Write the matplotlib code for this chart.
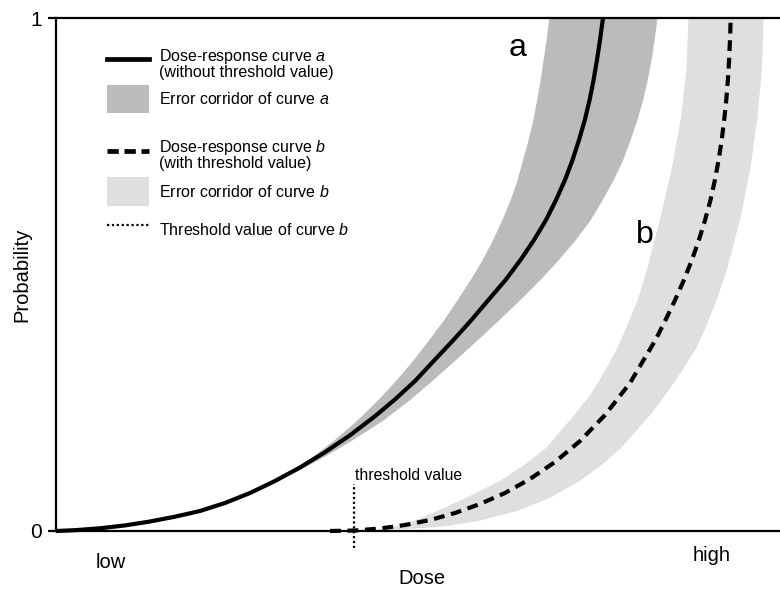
import matplotlib
matplotlib.use("Agg")
import matplotlib.pyplot as plt
from matplotlib.lines import Line2D
from matplotlib.patches import Patch
from matplotlib.legend import Legend

plt.rcParams['font.family'] = ['Liberation Sans', 'DejaVu Sans']
plt.rcParams['mathtext.fontset'] = 'custom'
plt.rcParams['mathtext.rm'] = 'Liberation Sans'
plt.rcParams['mathtext.it'] = 'Liberation Sans:italic'

# ---- data (dose in arbitrary units 0..100, probability 0..1) ----
curve_a_dose = [0.0, 2.62, 6.08, 9.53, 12.98, 16.44, 19.89, 23.34, 26.80, 30.25,
                33.70, 37.15, 40.61, 44.06, 46.82, 49.59, 52.29, 54.89, 57.38,
                59.72, 62.09, 64.16, 66.02, 67.68, 69.06, 70.30, 71.34, 72.24,
                73.04, 73.70, 74.25, 74.72, 75.14, 75.55]
curve_a_prob = [0.0, 0.0016, 0.0053, 0.0109, 0.0185, 0.0279, 0.0390, 0.0546,
                0.0741, 0.0975, 0.1238, 0.1536, 0.1867, 0.2238, 0.2565, 0.2924,
                0.3333, 0.3723, 0.4113, 0.4503, 0.4893, 0.5283, 0.5673, 0.6062,
                0.6452, 0.6842, 0.7232, 0.7622, 0.8012, 0.8402, 0.8791, 0.9181,
                0.9571, 1.0]

band_a_prob = [0.0799, 0.1189, 0.1481, 0.1774, 0.2164, 0.2554, 0.2943, 0.3333,
               0.3723, 0.4113, 0.4503, 0.4893, 0.5283, 0.5673, 0.6062, 0.6452,
               0.6842, 0.7232, 0.7622, 0.8012, 0.8402, 0.8791, 0.9181, 0.9571,
               1.0]
band_a_low = [27.67, 32.58, 35.69, 38.38, 41.57, 44.41, 46.96, 49.31, 51.44,
              53.51, 55.37, 57.17, 58.83, 60.28, 61.56, 62.71, 63.67, 64.43,
              65.19, 65.86, 66.38, 66.86, 67.27, 67.68, 68.09]
band_a_high = [27.67, 33.55, 37.35, 40.87, 45.17, 48.76, 52.00, 55.11, 58.15,
               61.12, 64.02, 66.78, 69.34, 71.69, 73.76, 75.41, 76.93, 78.25,
               79.28, 80.22, 81.02, 81.64, 82.18, 82.60, 83.01]

curve_b_dose = [37.85, 41.30, 44.75, 48.20, 51.66, 55.11, 58.56, 62.02, 65.47,
                68.92, 72.38, 75.83, 79.28, 82.80, 84.19, 85.51, 86.73, 87.83,
                88.80, 89.65, 90.40, 91.01, 91.52, 91.95, 92.29, 92.58, 92.80,
                92.97, 93.09, 93.19]
curve_b_prob = [0.0, 0.001, 0.0049, 0.0117, 0.0214, 0.0351, 0.0526, 0.0741,
                0.1014, 0.1345, 0.1754, 0.2261, 0.2885, 0.3723, 0.4113, 0.4503,
                0.4893, 0.5283, 0.5673, 0.6062, 0.6452, 0.6842, 0.7232, 0.7622,
                0.8012, 0.8402, 0.8791, 0.9181, 0.9571, 1.0]

band_b_prob = [0.0019, 0.0049, 0.0078, 0.0117, 0.0214, 0.0409, 0.0663, 0.0994,
               0.1326, 0.1637, 0.2300, 0.2632, 0.2943, 0.3275, 0.3587, 0.3918,
               0.4503, 0.5146, 0.6121, 0.7096, 0.8070, 0.9045, 1.0]
band_b_low = [43.65, 44.75, 45.99, 47.38, 49.45, 52.76, 56.63, 61.33, 64.92,
              67.68, 71.69, 73.55, 75.00, 76.31, 77.49, 78.52, 80.25, 81.63,
              83.43, 85.01, 86.26, 87.02, 87.29]
band_b_high = [43.65, 48.20, 51.66, 54.42, 58.56, 63.81, 68.23, 72.38, 75.55,
               78.04, 82.18, 83.91, 85.50, 87.02, 88.40, 89.50, 91.16, 92.68,
               94.48, 95.86, 96.82, 97.45, 97.65]

threshold_dose = 41.2
threshold_line = [-0.033, 0.092]

ytick_vals = [0, 1]
ytick_labels = ['0', '1']

color_a = '#bbbbbb'
color_b = '#dfdfdf'

fig = plt.figure(figsize=(7.8, 5.94), dpi=100)
ax = fig.add_axes([56 / 780, 63 / 594, 724 / 780, 513 / 594])

ax.fill_betweenx(band_a_prob, band_a_low, band_a_high, color=color_a, lw=0)
ax.fill_betweenx(band_b_prob, band_b_low, band_b_high, color=color_b, lw=0)
ax.plot(curve_a_dose, curve_a_prob, color='black', lw=3.0, clip_on=False,
        solid_capstyle='butt', solid_joinstyle='round', zorder=3)
ax.plot(curve_b_dose, curve_b_prob, color='black', lw=3.0, clip_on=False,
        dashes=(2.6, 1.6), zorder=3)
ax.plot([threshold_dose, threshold_dose], threshold_line, color='black', lw=1.6,
        linestyle=(0, (1, 1.2)), clip_on=False, zorder=3)
ax.text(threshold_dose + 0.1, 0.099, 'threshold value', fontsize=11.3,
        ha='left', va='baseline')

ax.text(63.8, 0.942, 'a', fontsize=23, ha='center', va='center')
ax.text(81.4, 0.577, 'b', fontsize=23, ha='center', va='center')

ax.set_xlim(0, 100)
ax.set_ylim(0, 1)
ax.set_xticks([])
ax.set_yticks(ytick_vals)
ax.set_yticklabels(ytick_labels, fontsize=15)
ax.tick_params(axis='y', length=6, width=1.6, pad=4)
for s in ['left', 'top', 'bottom']:
    ax.spines[s].set_linewidth(1.6)
ax.spines['right'].set_visible(False)

ax.text(7.6, -0.062, 'low', fontsize=14.5, ha='center', va='center')
ax.text(90.6, -0.047, 'high', fontsize=14.5, ha='center', va='center')
ax.text(0.505, -0.092, 'Dose', fontsize=14.5, ha='center', va='center',
        transform=ax.transAxes)
ax.text(-0.047, 0.5, 'Probability', fontsize=14.5, ha='center', va='center',
        rotation=90, transform=ax.transAxes)

# ---- legend (one row per Legend for exact spacing) ----
rows = [
    (Line2D([], [], color='black', lw=3.4),
     'Dose-response curve $\\mathit{a}$\n(without threshold value)', 0.912),
    (Patch(facecolor=color_a, edgecolor='none'),
     'Error corridor of curve $\\mathit{a}$', 0.842),
    (Line2D([], [], color='black', lw=3.4, dashes=(2.4, 1.2)),
     'Dose-response curve $\\mathit{b}$\n(with threshold value)', 0.733),
    (Patch(facecolor=color_b, edgecolor='none'),
     'Error corridor of curve $\\mathit{b}$', 0.661),
    (Line2D([], [], color='black', lw=1.6, linestyle=(0, (1, 1.2))),
     'Threshold value of curve $\\mathit{b}$', 0.587),
]
for handle, label, ypos in rows:
    leg = Legend(ax, [handle], [label], loc='center left',
                 bbox_to_anchor=(0.0704, ypos), frameon=False, fontsize=11.5,
                 borderpad=0, borderaxespad=0, handlelength=2.63,
                 handleheight=2.4, handletextpad=0.65)
    for t in leg.get_texts():
        t.set_linespacing(0.92)
    ax.add_artist(leg)

fig.savefig('out.png', dpi=100)
